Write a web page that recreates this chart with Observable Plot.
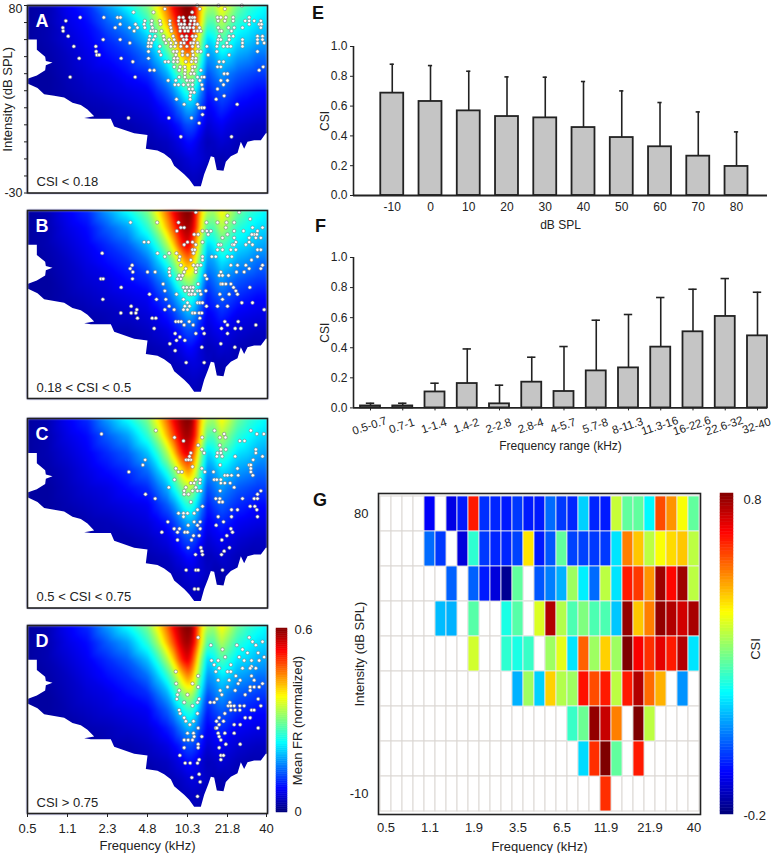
<!DOCTYPE html>
<html><head><meta charset="utf-8">
<script src="https://cdn.jsdelivr.net/npm/d3@7"></script>
<script src="https://cdn.jsdelivr.net/npm/@observablehq/plot@0.6"></script>
<style>
html,body{margin:0;padding:0;background:#fff}
#root{position:relative;width:772px;height:853px;overflow:hidden;font-family:"Liberation Sans",Arial,sans-serif;color:#222}
#root svg{position:absolute;background:transparent}
#root image{filter:blur(.8px)}
.tag{position:absolute;font-weight:bold;font-size:18px;line-height:18px;color:#111}
</style></head><body><div id="root"></div>
<script>
// jet colour stops
const jetStops = ["#00007f","#0000ff","#007fff","#00ffff","#7fff7f","#ffff00","#ff7f00","#ff0000","#7f0000"];
// frequency axis of panels A-D: position along the log-frequency axis (120 units per labelled tick)
const freqPos = [0,120,240,360,480,600,717];
const freqLabels = ["0.5","1.1","2.3","4.8","10.3","21.8","40"];
// Mean FR surface: columns = log-frequency position, rows = dB SPL
const fieldX = [0,60,120,180,240,300,360,390,420,438,456,468,480,492,504,522,540,558,582,600,630,660,690,720];
const fieldDb = [80,70,60,50,40,30,20,10,0,-10,-20,-30];
const fieldV = [
[.02,.03,.07,.10,.17,.23,.30,.38,.47,.53,.57,.59,.60,.59,.52,.40,.33,.32,.38,.35,.29,.26,.24,.22],
[.02,.03,.06,.08,.13,.17,.25,.32,.42,.48,.54,.57,.58,.56,.50,.37,.27,.27,.33,.30,.25,.23,.21,.20],
[.02,.03,.05,.07,.10,.13,.19,.25,.33,.40,.48,.52,.54,.50,.43,.30,.20,.22,.27,.25,.21,.20,.18,.17],
[.02,.025,.04,.06,.08,.10,.14,.19,.25,.30,.37,.41,.44,.42,.36,.25,.16,.17,.21,.20,.17,.16,.14,.14],
[.02,.02,.035,.05,.06,.08,.10,.14,.18,.23,.28,.31,.33,.33,.29,.20,.12,.14,.17,.15,.13,.12,.11,.11],
[.02,.02,.03,.04,.05,.06,.07,.10,.13,.16,.20,.23,.25,.25,.22,.15,.09,.11,.13,.12,.10,.09,.08,.08],
[.015,.02,.02,.03,.035,.045,.055,.07,.09,.11,.14,.16,.18,.18,.16,.11,.07,.08,.10,.09,.07,.065,.06,.06],
[.01,.015,.02,.02,.03,.03,.04,.05,.06,.075,.09,.11,.12,.12,.11,.08,.05,.06,.07,.06,.05,.045,.04,.04],
[.01,.01,.015,.02,.02,.025,.03,.035,.04,.05,.06,.07,.08,.08,.07,.05,.035,.04,.05,.045,.035,.03,.03,.03],
[.01,.01,.01,.015,.02,.02,.02,.025,.03,.035,.04,.045,.05,.055,.055,.05,.04,.03,.03,.035,.03,.025,.02,.02],
[.01,.01,.01,.01,.01,.015,.015,.02,.02,.025,.03,.035,.035,.04,.04,.035,.03,.02,.02,.025,.02,.02,.015,.015],
[.01,.01,.01,.01,.01,.01,.01,.01,.015,.02,.02,.025,.03,.03,.03,.025,.02,.015,.015,.015,.015,.01,.01,.01]];
// response-area outline: region below threshold and the low-frequency notch
const belowEdge = [[0,-30],[0,34.3],[30,31.6],[50,28],[80,27],[110,26],[135,23],[160,21.6],[180,19],[200,15],[170,14],[190,13.5],[250,13.5],[260,9],[320,5],[360,4],[355,-4],[390,-5],[410,-7],[430,-10],[440,-14],[470,-19],[485,-22],[500,-26],[520,-26],[530,-19],[542,-13],[550,-8.5],[560,-9],[568,-16.5],[588,-17],[595,-11.6],[610,-8.5],[630,-6.5],[640,0],[650,-4],[660,0],[680,1],[700,1],[715,5],[720,5],[720,-30]];
const notchEdge = [[0,60],[28,60],[28,54],[53,50],[55,47.5],[75,46.5],[55,45],[53,42],[28,39],[0,37]];
// unit best frequency / threshold per CSI class: [dB, [positions]]
const dotsA = [[80,[509,573,643]],[78,[412,517,592]],[76,[318,378,494]],
[73,[158,229,270,279,455,467,487,495,501,570,580,595,617,665]],
[71,[115,352,373,397,427,453,471,490,501,572,592,617,653,680,700,665]],
[69,[278,324,350,372,399,427,455,461,471,487,501,510,665,695,702]],
[67,[106,263,306,330,352,375,430,458,468,478,487,498,516,572,603,620,645,700]],
[65,[107,320,370,378,385,402,432,458,472,482,500,510,520,577,582,612]],
[62,[122,367,383,408,437,463,477,495,505,575,605,617,690,705]],
[60,[227,278,365,378,410,425,440,468,477,500,572,580,605,645,690,705]],
[58,[307,363,372,415,430,445,460,470,490,498,510,570,598,645,710,690]],
[56,[139,205,362,370,397,430,442,460,478,495,512,538,568,588,600,610,645]],
[53,[206,363,395,438,448,465,495,510,520,568,690]],
[51,[208,215,400,445,465,480,497,542,605]],
[49,[155,281,363,440,450,495,505]],
[47,[316,413,423,438,450,475,492,505,575,588]],
[44,[440,458,472,495,502,570,580,707]],
[42,[367,380,455,473,495,520,695]],
[40,[472,490,500,590,600]],
[38,[128,323,455,472,510,523,530]],
[36,[422,445,478,488,495,517,580,600]],
[33.5,[442,453,468,482,495,523,588]],
[31,[485,495,525,570]],[29,[490,500]],[27,[488,590]],[25,[447,488,566]],[22,[470,510,629]],[20,[515,523,530]],[16,[525]],[14,[303,424,492]],[11,[515]],[3,[460,612]]];
const dotsB = [[79,[505,635]],[77,[600]],[75,[668]],[73,[309,389,453,537,570,597,620]],[70,[460,470,595,675,705]],[68,[448,525,538,550,620,648,690]],[66,[500,512,542,600,680,673,688]],[64,[585,620,665,700,685]],[61.5,[350,363,480,495,525,625,665]],[60,[470,505,580,573,615,620,655,675]],[57,[495,502,570,585,610,625,690,700]],[55,[224,390,425,447,498]],[53,[412,457,525,553,565,600,613,690]],[51,[455,490,525,672]],[48,[314,460,498,510,520,610,630,655,705]],[46,[308,426,475,505,700,665]],[44,[316,360,383,425,470,505,580,627,650]],[42,[427,465,533,575,585,603,455]],[40,[315,220,227,460,450,538]],[37,[407,512,580,585,595,610]],[35,[281,468,478,490,497,618,667]],[33,[412,473,485,495,510,517,535,625]],[31,[366,447,485,492,502,520,577,605,630]],[28,[387,415,226,468,585]],[26,[510,517,525,480,643,675]],[24,[311,425,472,486,570,600,537]],[22,[328,412,440,468,480,710]],[20,[280,311,325,495,502,515,523]],[17,[330,374,385,517]],[15,[445,453,461,485,592,632]],[13,[470,497,600,685]],[11,[380,525,582,623,640]],[8,[443,505,530,600]],[6,[457]],[4,[447,472]],[2,[427,580]],[0,[523,622]],[-2,[443]],[-9,[476,530]]];
const dotsC = [[73,[385,561,670]],[71,[222,590,688,709]],[69,[441,524,577,594]],[67,[468,637,651]],[64.5,[512,577]],[62,[580,595,523,685]],[60,[530,570,580,490,685]],[58,[486,568,584,623,705]],[56,[353,476,490,483,677]],[53,[346,578,665,670]],[52,[495]],[51,[445,523,630,670]],[49,[304,453,463,532,558,670]],[47,[592,600,612,632,676]],[44.5,[441,560,568,580,505,518]],[42.5,[490,500,517,580,592,608]],[40,[424,475,505,620]],[38,[470,495,510,520,578,700]],[36,[354,470,483,690]],[33.5,[383,565,577,645,680,690]],[31.5,[585,575,490]],[29,[668,682,525]],[27,[510,612,630,688]],[25,[453,468,480,500]],[23,[468,690,572,612]],[20,[421,588,500,518]],[18,[482,510,566]],[16,[440,456,518,610]],[14,[472,480,615,403,450]],[12,[498,515,598]],[9.5,[492,450,583]],[5,[482,520,606]],[3,[523,590]],[1,[525,504,582]],[-8,[476,505,512,585]],[-19,[501,512]]];
const dotsD = [[73,[512,665]],[70.5,[675,705]],[68.5,[550,685,628]],[66,[645,585]],[64,[660,692]],[61.5,[593,635,710]],[59.5,[552,572,650,672,695]],[57,[560,610]],[56,[672]],[55,[668,575,645,685]],[53,[445,565,600,610]],[50.5,[625,512,672]],[48,[638,605,572,680]],[46,[446,495,705,632]],[44,[512,600,668,680,695]],[42,[455,578,623,668]],[39.5,[450,480,583,653]],[37,[448,515,692,568]],[35,[548,560,607,470,510]],[33,[495,700,602,610,620,637,650]],[30.5,[455,610,623,637,672,680]],[28.5,[458,592,510]],[26,[575,470,653,668]],[24,[567,475,498,588]],[22,[487,620,638,575]],[20,[692,565,568,512]],[17,[572,592,480,498,620]],[15,[500,523,575]],[13,[470,482,495,580]],[10.5,[512,595,638]],[8.5,[470,512,575]],[4,[457,580,588]],[1.5,[580,515]],[-0.5,[473,488,510]],[-7,[515]],[-9,[493]],[-11.5,[518]],[-20,[510]]];
// bars E
const eDb = [-10,0,10,20,30,40,50,60,70,80];
const eMean = [.687,.631,.568,.53,.521,.456,.389,.327,.264,.195];
const eTop = [.881,.872,.834,.796,.794,.765,.702,.624,.561,.427];
// bars F
const fRange = ["0.5-0.7","0.7-1","1-1.4","1.4-2","2-2.8","2.8-4","4-5.7","5.7-8","8-11.3","11.3-16","16-22.6","22.6-32","32-40"];
const fMean = [.013,.013,.106,.162,.027,.171,.109,.246,.266,.404,.506,.608,.479];
const fTop = [.031,.031,.164,.392,.151,.337,.408,.583,.621,.734,.789,.86,.769];
// heat map G
const n = null;
const gRows = [
[n,n,n,n,-.08,n,-.1,-.05,.65,-.03,-.04,-.05,-.02,-.05,-.05,.03,-.02,-.04,.13,-.04,-.05,.37,.27,.27,.17,.6,.53,.42,.27],
[n,n,n,n,.03,-.02,n,-.11,.22,-.02,-.04,-.04,-.01,.45,-.05,.01,.27,-.01,-.01,-.02,-.02,.15,.55,.48,.36,.42,.46,.48,.36],
[n,n,n,n,n,n,.02,n,.02,-.05,-.11,-.18,.27,n,.01,.05,.1,.33,.16,.03,.36,.15,.65,.62,.53,.77,.67,.77,.36],
[n,n,n,n,n,.11,.1,n,.26,n,n,.2,.26,n,.39,.75,.35,.25,.3,.25,.25,.12,.78,.48,.55,.78,.75,.72,.76],
[n,n,n,n,n,n,n,n,.38,n,n,.22,.2,.23,n,.33,.4,.15,.58,.33,.47,.33,.8,.68,.63,.7,.65,.75,.15],
[n,n,n,n,n,n,n,n,n,n,n,n,.1,.33,.13,.47,.35,.33,.66,.6,.65,.36,.65,.75,.57,.5,n,.07,n],
[n,n,n,n,n,n,n,n,n,n,n,n,n,n,n,n,n,.23,.28,.78,.73,.55,n,.8,.36,n,n,n,n],
[n,n,n,n,n,n,n,n,n,n,n,n,n,n,n,n,n,n,.14,.63,.8,.27,n,.65,n,n,n,n,n],
[n,n,n,n,n,n,n,n,n,n,n,n,n,n,n,n,n,n,n,n,.63,n,n,n,n,n,n,n,n]];
const gFreqCols = [0,4,8,12,16,20,24,28];
const gFreqLabels = ["0.5","1.1","1.9","3.5","6.5","11.9","21.9","40"];
const gDbRows = [0,8];
const gDbLabels = ["80","-10"];

const FONT = "'Liberation Sans',Arial,sans-serif";
const INK = "#222";
const jet = d3.piecewise(d3.interpolateRgb, jetStops);
const root = document.getElementById("root");
function place(svg, left, top){ svg.style.left = left+"px"; svg.style.top = top+"px"; root.appendChild(svg); }
function tag(t,x,y){ const d=document.createElement("div"); d.className="tag"; d.textContent=t; d.style.left=x+"px"; d.style.top=y+"px"; root.appendChild(d); }
const style = s => ({fontFamily:FONT,fontSize:s+"px",color:INK,background:"transparent",overflow:"visible"});

const fieldPoints = fieldDb.flatMap((db,r)=>fieldX.map((x,c)=>({x,db,v:fieldV[r][c]})));
const poly = (edge)=>Plot.line(edge,{x:d=>d[0],y:d=>d[1],fill:"white",stroke:null,curve:"linear"});

function panel(letter, caption, rows, top, h, opts={}){
  const dots = rows.flatMap(([db,xs])=>xs.map(x=>({x,db})));
  const mT=6, mB=opts.xAxis?40:4, mL=27, mR=5;
  const marks = [
    Plot.raster(fieldPoints,{x:"x",y:"db",fill:"v",interpolate:"barycentric",pixelSize:1}),
    poly(belowEdge), poly(notchEdge),
    Plot.dot(dots,{x:"x",y:"db",r:1.7,fill:"white",stroke:"#7a7a7a",strokeWidth:.6}),
    Plot.frame({stroke:INK,strokeWidth:1.6}),
    Plot.text([letter],{frameAnchor:"top-left",dx:8,dy:9,lineAnchor:"top",fill:"white",fontWeight:"bold",fontSize:18}),
    Plot.text([caption],{frameAnchor:"bottom-left",dx:9,dy:-7,lineAnchor:"bottom",fill:INK,fontSize:13})
  ];
  if(opts.yAxis) marks.push(
    Plot.axisY({ticks:d3.range(-30,81,10),tickSize:3,tickFormat:()=>"",label:"Intensity (dB SPL)",labelAnchor:"center",labelArrow:"none",labelOffset:25,fontSize:13}),
    Plot.text([80],{x:0,y:d=>d,text:d=>String(d),dx:-5,dy:3,textAnchor:"end",fontSize:12.5,fill:INK}),
    Plot.text([-30],{x:0,y:d=>d,text:d=>String(d),dx:-5,textAnchor:"end",fontSize:12.5,fill:INK}));
  if(opts.xAxis) marks.push(Plot.axisX({ticks:freqPos,tickSize:4,tickPadding:6,tickFormat:d=>freqLabels[freqPos.indexOf(d)],label:"Frequency (kHz)",labelAnchor:"center",labelArrow:"none",labelOffset:36}));
  const p = Plot.plot({width:mL+240+mR,height:h+mT+mB,marginTop:mT,marginBottom:mB,marginLeft:mL,marginRight:mR,
    style:style(13),
    x:{domain:[0,720],axis:opts.xAxis?undefined:null},
    y:{domain:[-30,80],axis:opts.yAxis?undefined:null},
    color:{type:"linear",domain:[0,.6],interpolate:jet,clamp:true},
    marks});
  place(p,0,top-mT);
}
panel("A","CSI < 0.18",dotsA,4.7,187.5,{yAxis:true});
panel("B","0.18 < CSI < 0.5",dotsB,210,188);
panel("C","0.5 < CSI < 0.75",dotsC,417.5,189.5);
panel("D","CSI > 0.75",dotsD,625,188,{xAxis:true});

function colorbar(left,top,w,h,domain,step,labels,labelDx,title,titleOffset,titleDy){
  const vals = d3.range(domain[0],domain[1],step);
  const mL=2,mR=40,mT=4,mB=4;
  const p = Plot.plot({width:w+mL+mR,height:h+mT+mB,marginLeft:mL,marginRight:mR,marginTop:mT,marginBottom:mB,style:style(13),
    x:{domain:[0,1],axis:null},y:{domain,axis:null},
    color:{type:"linear",domain,interpolate:jet},
    marks:[
      Plot.rect(vals,{x1:0,x2:1,y1:d=>d,y2:d=>d+step,fill:d=>d,stroke:d=>d,strokeWidth:.5}),
      Plot.text(labels,{x:1,y:d=>d.v,text:d=>d.t,textAnchor:"start",dx:labelDx,fontSize:13,fill:INK}),
      Plot.text([title],{x:1,y:(domain[0]+domain[1])/2,dx:titleOffset,dy:titleDy,rotate:-90,textAnchor:"middle",fontSize:13,fill:INK})
    ]});
  place(p,left-mL,top-mT);
}
colorbar(276,628,11,184,[0,.6],.006,[{v:.595,t:"0.6"},{v:.003,t:"0"}],7,"Mean FR (normalized)",10,0);
colorbar(720,493,13,321,[-.2,.8],.01,[{v:.78,t:"0.8"},{v:-.205,t:"-0.2"}],10,"CSI",22,-5);

// E
(function(){
  const data = eDb.map((db,i)=>({db,m:eMean[i],t:eTop[i]}));
  const mL=43,mR=5,mT=6,mB=42;
  const p = Plot.plot({width:mL+414+mR,height:149+mT+mB,marginLeft:mL,marginRight:mR,marginTop:mT,marginBottom:mB,style:style(12),
    x:{domain:[-20.13,88.1]},y:{domain:[0,1]},
    marks:[
      Plot.ruleX(data,{x:"db",y1:"m",y2:"t",stroke:INK,strokeWidth:1.6}),
      Plot.ruleY(data,{y:"t",x1:d=>d.db-.55,x2:d=>d.db+.55,stroke:INK,strokeWidth:1.6}),
      Plot.rect(data,{x1:d=>d.db-3,x2:d=>d.db+3,y1:0,y2:"m",fill:"#c5c5c5",stroke:INK,strokeWidth:1.8}),
      Plot.ruleY([0],{stroke:INK,strokeWidth:1.8}),
      Plot.ruleX([-20.13],{stroke:INK,strokeWidth:1.6}),
      Plot.axisY({ticks:[0,.2,.4,.6,.8,1],tickSize:3,tickPadding:3,tickFormat:d3.format(".1f"),label:"CSI",labelAnchor:"center",labelArrow:"none",labelOffset:33}),
      Plot.axisX({ticks:eDb,tickSize:0,tickPadding:7,tickFormat:d=>String(d),label:"dB SPL",labelAnchor:"center",labelArrow:"none",labelOffset:33})
    ]});
  place(p,310,46-mT);
})();
// F
(function(){
  const data = fRange.map((r,i)=>({i,r,m:fMean[i],t:fTop[i]}));
  const mL=43,mR=5,mT=6,mB=50;
  const p = Plot.plot({width:mL+414+mR,height:150.4+mT+mB,marginLeft:mL,marginRight:mR,marginTop:mT,marginBottom:mB,style:style(12),
    x:{domain:[-.527,12.31]},y:{domain:[0,1]},
    marks:[
      Plot.ruleX(data,{x:"i",y1:"m",y2:"t",stroke:INK,strokeWidth:1.6}),
      Plot.ruleY(data,{y:"t",x1:d=>d.i-.13,x2:d=>d.i+.13,stroke:INK,strokeWidth:1.6}),
      Plot.rect(data,{x1:d=>d.i-.31,x2:d=>d.i+.31,y1:0,y2:"m",fill:"#c5c5c5",stroke:INK,strokeWidth:1.8}),
      Plot.ruleY([0],{stroke:INK,strokeWidth:1.8}),
      Plot.ruleX([-.527],{stroke:INK,strokeWidth:1.6}),
      Plot.axisY({ticks:[0,.2,.4,.6,.8,1],tickSize:3,tickPadding:3,tickFormat:d3.format(".1f"),label:"CSI",labelAnchor:"center",labelArrow:"none",labelOffset:33}),
      Plot.axisX({ticks:data.map(d=>d.i),tickSize:3,tickFormat:()=>"",label:"Frequency range (kHz)",labelAnchor:"center",labelArrow:"none",labelOffset:42}),
      Plot.text(data,{x:"i",y:0,text:"r",dy:18,dx:-1,rotate:-18,textAnchor:"middle",fontSize:11.5,fill:INK})
    ]});
  place(p,310,257.3-mT);
})();
// G
(function(){
  const cols = d3.range(gRows[0].length), rows = d3.range(gRows.length);
  const all = rows.flatMap(r=>cols.map(c=>({r,c,v:gRows[r][c]})));
  const mL=38,mR=5,mT=5,mB=40;
  const p = Plot.plot({width:mL+322+mR,height:321+mT+mB,marginLeft:mL,marginRight:mR,marginTop:mT,marginBottom:mB,style:style(13),
    x:{type:"band",domain:cols,padding:0},y:{type:"band",domain:rows,padding:0},
    color:{type:"linear",domain:[-.2,.8],interpolate:jet},
    marks:[
      Plot.cell(all,{x:"c",y:"r",fill:"white",stroke:"#dcd8d4",strokeWidth:1}),
      Plot.cell(all.filter(d=>d.v!==null),{x:"c",y:"r",fill:"v",stroke:"#eeeeee",strokeWidth:.8}),
      Plot.frame({stroke:INK,strokeWidth:1.6}),
      Plot.axisX({ticks:gFreqCols,tickSize:0,tickPadding:8,tickFormat:d=>gFreqLabels[gFreqCols.indexOf(d)],label:"Frequency (kHz)",labelAnchor:"center",labelArrow:"none",labelOffset:36}),
      Plot.axisY({ticks:gDbRows,tickSize:0,tickPadding:10,tickFormat:d=>gDbLabels[gDbRows.indexOf(d)],label:"Intensity (dB SPL)",labelAnchor:"center",labelArrow:"none",labelOffset:24})
    ]});
  place(p,378-mL,493-mT);
})();
tag("E",312,4); tag("F",315,217); tag("G",313,491);
</script></body></html>
